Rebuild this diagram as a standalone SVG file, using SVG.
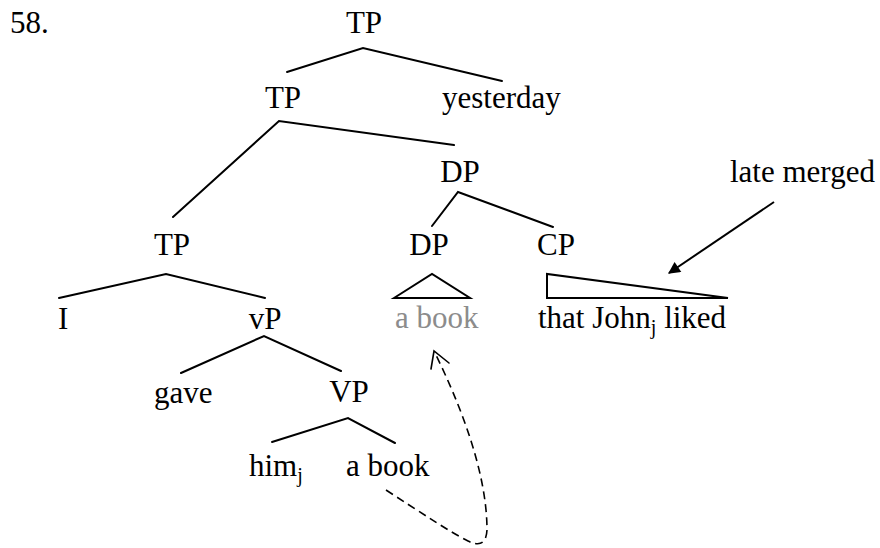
<svg xmlns="http://www.w3.org/2000/svg" width="880" height="548" viewBox="0 0 880 548">
<defs>
<style>
text{font-family:'Liberation Serif','Times New Roman',serif;font-size:31px;fill:#000}
.g{fill:#8c8c8c}
.sub{font-size:20px}
.e{stroke:#000;stroke-width:2;fill:none;stroke-linecap:round}
.d{stroke:#000;stroke-width:1.6;fill:none;stroke-dasharray:8 5}
</style>
<marker id="fa" viewBox="0 0 10 10" refX="9" refY="5" markerWidth="15" markerHeight="12" markerUnits="userSpaceOnUse" orient="auto">
<path d="M0,0 L10,5 L0,10 Z" fill="#000"/>
</marker>
</defs>
<rect width="880" height="548" fill="#fff"/>
<g id="num"><text x="10" y="33">58.</text></g>
<g id="n-tp1"><text x="364" y="33" text-anchor="middle">TP</text></g>
<g id="n-tp2"><text x="283" y="108" text-anchor="middle">TP</text></g>
<g id="n-yesterday"><text x="442" y="108">yesterday</text></g>
<g id="n-dp1"><text x="460" y="182" text-anchor="middle">DP</text></g>
<g id="n-late"><text x="730" y="182">late merged</text></g>
<g id="n-tp3"><text x="172" y="255" text-anchor="middle">TP</text></g>
<g id="n-dp2"><text x="429" y="255" text-anchor="middle">DP</text></g>
<g id="n-cp"><text x="556" y="255" text-anchor="middle">CP</text></g>
<g id="n-i"><text x="58" y="329">I</text></g>
<g id="n-vp"><text x="265" y="329" text-anchor="middle">vP</text></g>
<g id="n-abook1"><text class="g" x="395" y="328">a book</text></g>
<g id="n-that"><text x="538" y="328">that John<tspan class="sub" dy="6">j</tspan><tspan dy="-6"> liked</tspan></text></g>
<g id="n-gave"><text x="154" y="403">gave</text></g>
<g id="n-VP"><text x="349" y="402" text-anchor="middle">VP</text></g>
<g id="n-him"><text x="249" y="476">him<tspan class="sub" dy="6">j</tspan></text></g>
<g id="n-abook2"><text x="346" y="476">a book</text></g>
<g id="connectors">
<polyline class="e" points="287,72 363,48 502,81"/>
<polyline class="e" points="173,217 279,121 454,145"/>
<polyline class="e" points="432,226 458,192 553,227"/>
<polyline class="e" points="59,298 166,274 265,298"/>
<polygon class="e" points="394,298 432,274 470,298"/>
<polygon class="e" points="547,274 547,298 728,298"/>
<polyline class="e" points="181,373 264,336 341,371"/>
<polyline class="e" points="272,442 348,418 395,443"/>
<line class="e" x1="774" y1="202" x2="669" y2="273" marker-end="url(#fa)" style="stroke-linecap:butt"/>
<path class="d" d="M386,490 C420,512 450,532 468,541 Q486,550 487,530 C487,470 458,400 435,353"/>
<polyline class="e" points="431,369 434,351 449,363" style="stroke-width:1.6"/>
</g>
</svg>
